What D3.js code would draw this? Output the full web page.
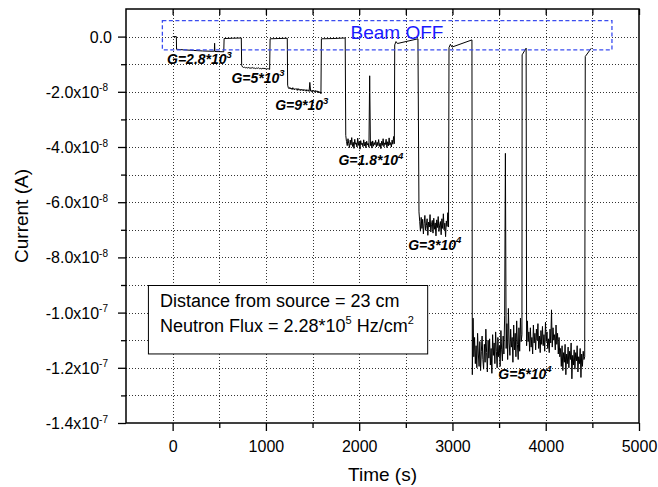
<!DOCTYPE html>
<html>
<head>
<meta charset="utf-8">
<script src="https://cdn.jsdelivr.net/npm/d3@7"></script>
<style>
  html, body { margin: 0; padding: 0; background: #fff; }
  svg { display: block; font-family: "Liberation Sans", Arial, sans-serif; }
</style>
</head>
<body>
<svg id="chart" width="658" height="487"></svg>
<script>
// ---------------- DATA (current in units of 1e-8 A, time in s) ----------------
const valueUnit = 1e-8;

// smooth / beam-off pieces: [time, value]
const start0   = [[0, 0], [40, 0]];
const gain1    = [[42, -0.46], [120, -0.48], [220, -0.50], [320, -0.52], [400, -0.53], [447, -0.53], [450, -0.24], [453, -0.54], [548, -0.55]];
const beamOff1 = [[552, -0.07], [640, -0.06], [736, -0.05]];
const beamOff2 = [[1045, -0.08], [1130, -0.07], [1229, -0.06]];
const beamOff3 = [[1595, -0.08], [1720, -0.07], [1850, -0.05]];
const beamOff4 = [[2381, -0.30], [2395, -0.18], [2410, -0.25], [2630, -0.08]];
const beamOff5 = [[2963, -0.40], [2978, -0.28], [2995, -0.38], [3209, -0.12]];
const beamOff6 = [[3747, -0.66], [3790, -0.42]];
const beamOff7 = [[4424, -0.72], [4489, -0.42]];

// sampled noisy pieces (evenly sampled between tStart and tEnd)
const gain2 = { tStart: 740, tEnd: 1040, values: [-1.04,-1.10,-1.12,-1.11,-1.13,-1.12,-1.14,-1.12,-1.13,-1.15,-1.13,-1.14,-1.12,-1.15,-1.14,-1.16,-1.14,-1.15,-1.13,-1.16,-1.15,-1.17,-1.15,-1.16,-1.14,-1.17,-1.16,-1.18,-1.16,-1.17,-1.19] };
const gain3 = { tStart: 1233, tEnd: 1590, values: [-1.76,-1.86,-1.89,-1.84,-1.90,-1.87,-1.92,-1.85,-1.90,-1.93,-1.88,-1.91,-1.89,-1.95,-1.88,-1.93,-1.91,-1.96,-1.90,-1.94,-1.92,-1.97,-1.91,-1.95,-1.93,-1.98,-1.92,-1.96,-1.94,-1.99,-1.66,-1.97,-1.95,-2.01,-1.94,-1.98,-1.96,-2.02,-1.95,-1.99,-1.97,-2.04,-1.98,-2.03,-2.00,-2.07] };
const gain4 = { tStart: 1856, tEnd: 2377, values: [-3.58,-3.80,-3.95,-3.70,-3.88,-4.02,-3.75,-3.92,-3.66,-3.98,-3.83,-4.05,-3.72,-3.90,-3.85,-4.00,-3.68,-3.94,-3.80,-4.08,-3.77,-3.91,-3.86,-3.99,-3.74,-3.96,-3.82,-4.03,-3.79,-3.93,-3.87,-4.01,-1.42,-3.95,-3.81,-4.04,-3.78,-3.97,-3.84,-3.92,-3.76,-4.00,-3.83,-3.95,-3.73,-3.98,-3.86,-4.06,-3.79,-3.94,-3.70,-3.99,-3.85,-3.91,-3.72,-4.02,-3.81,-3.96,-3.67,-3.93,-3.84,-4.00,-3.75,-3.90,-3.62,-3.88] };
const gain5 = { tStart: 2641, tEnd: 2958, values: [-6.35,-6.70,-7.05,-6.55,-6.95,-6.62,-7.15,-6.78,-6.48,-7.02,-6.85,-6.60,-7.20,-6.72,-6.90,-6.45,-7.08,-6.80,-6.66,-7.12,-6.58,-6.98,-6.75,-7.22,-6.64,-6.92,-6.52,-7.06,-6.83,-6.70,-7.18,-6.60,-6.95,-6.42,-7.00,-6.76,-7.25,-6.68,-6.88,-6.38,-6.90] };
const gain6a = { tStart: 3213, tEnd: 3745, values: [-12.25,-10.20,-11.60,-10.90,-11.85,-11.20,-12.00,-10.75,-11.50,-11.95,-11.05,-12.10,-11.40,-10.85,-11.70,-12.05,-11.15,-11.80,-10.60,-11.45,-12.15,-11.00,-11.65,-10.95,-11.90,-11.30,-12.20,-10.80,-11.55,-11.10,-11.85,-10.70,-11.40,-12.00,-10.90,-11.60,-11.20,-11.95,-10.65,-11.35,-11.75,-10.85,-11.50,-10.10,-4.23,-11.30,-10.40,-11.70,-9.85,-11.10,-11.55,-10.60,-11.25,-10.90,-11.80,-10.45,-11.35,-10.75,-11.60,-10.30,-11.15,-11.70,-10.55,-11.40,-10.20,-11.05,-10.80] };
const gain6b = { tStart: 3795, tEnd: 4418, values: [-11.20,-10.30,-11.05,-10.70,-11.40,-10.55,-11.25,-10.90,-11.50,-10.45,-11.10,-10.75,-11.35,-10.60,-11.00,-10.40,-11.30,-10.85,-11.45,-10.65,-11.15,-10.50,-11.20,-10.80,-11.40,-10.35,-11.05,-10.70,-11.30,-10.95,-11.45,-10.60,-11.10,-9.90,-11.25,-10.55,-11.00,-10.80,-11.35,-10.45,-11.15,-10.75,-11.50,-10.90,-11.60,-11.30,-11.95,-11.20,-12.10,-11.45,-11.80,-11.15,-12.25,-11.50,-11.85,-11.25,-12.00,-11.40,-11.70,-11.10,-12.40,-11.55,-11.90,-11.35,-12.05,-11.45,-11.75,-11.20,-12.15,-11.60,-11.85,-11.30,-12.35,-11.50,-11.95,-11.40,-11.70,-11.60] };

// axis ticks and labels
const xTicksMajor = [0, 1000, 2000, 3000, 4000, 5000];
const xTicksMinor = [500, 1500, 2500, 3500, 4500];
const yTicksMajor = [0, -2, -4, -6, -8, -10, -12, -14];
const yTicksMinor = [-1, -3, -5, -7, -9, -11, -13];
const yTickMantissa = ["0.0", "-2.0x10", "-4.0x10", "-6.0x10", "-8.0x10", "-1.0x10", "-1.2x10", "-1.4x10"];
const yTickExponent = ["", "-8", "-8", "-8", "-8", "-7", "-7", "-7"];

// annotations: gain labels [time, value, mantissa, exponent]
const gainLabels = [
  [-60, -1.01, "G=2.8*10", "3"],
  [630, -1.67, "G=5*10", "3"],
  [1100, -2.66, "G=9*10", "3"],
  [1778, -4.66, "G=1.8*10", "4"],
  [2525, -7.72, "G=3*10", "4"],
  [3492, -12.40, "G=5*10", "4"]
];
const beamOffBox = { t0: -110, t1: 4710, v0: 0.58, v1: -0.48 };
const beamOffLabel = { t: 1907, v: -0.09, text: "Beam OFF" };
const infoBox = { t0: -265, t1: 2729, v0: -9.01, v1: -11.49 };

// ---------------- BUILD SERIES ----------------
function sampled(seg) {
  const n = seg.values.length;
  const dt = (seg.tEnd - seg.tStart) / (n - 1);
  return seg.values.map((v, i) => [seg.tStart + i * dt, v]);
}
const series = [].concat(
  start0, gain1, beamOff1, sampled(gain2), beamOff2, sampled(gain3), beamOff3,
  sampled(gain4), beamOff4, sampled(gain5), beamOff5, sampled(gain6a), beamOff6,
  sampled(gain6b), beamOff7
);

// ---------------- CHART ----------------
const svg = d3.select("#chart");
const W = 658, H = 487;
const mg = { left: 126, top: 9, right: 19, bottom: 64 };
const x = d3.scaleLinear().domain([-500, 5000]).range([mg.left, W - mg.right]);
const y = d3.scaleLinear().domain([-14, 1]).range([H - mg.bottom, mg.top]);

const x0 = x.range()[0], x1 = x.range()[1], yb = y.range()[0], yt = y.range()[1];

// grid
const grid = svg.append("g").attr("stroke", "#333").attr("stroke-width", 1).attr("stroke-dasharray", "1,2").attr("fill", "none");
xTicksMajor.concat(xTicksMinor).filter(t => t < 5000).forEach(t => {
  grid.append("line").attr("x1", Math.round(x(t)) + 0.5).attr("x2", Math.round(x(t)) + 0.5).attr("y1", yt).attr("y2", yb);
});
yTicksMajor.concat(yTicksMinor).filter(v => v > -14).forEach(v => {
  grid.append("line").attr("y1", Math.round(y(v)) + 0.5).attr("y2", Math.round(y(v)) + 0.5).attr("x1", x0).attr("x2", x1);
});

// data line
const line = d3.line().x(d => x(d[0])).y(d => y(d[1]));
svg.append("path").datum(series)
  .attr("d", line)
  .attr("fill", "none")
  .attr("stroke", "#000")
  .attr("stroke-width", 1)
  .attr("stroke-linejoin", "round");

// beam-off dashed box
svg.append("rect")
  .attr("x", x(beamOffBox.t0)).attr("y", y(beamOffBox.v0))
  .attr("width", x(beamOffBox.t1) - x(beamOffBox.t0))
  .attr("height", y(beamOffBox.v1) - y(beamOffBox.v0))
  .attr("fill", "none").attr("stroke", "#3a4cf0").attr("stroke-width", 1.3)
  .attr("stroke-dasharray", "4,2.5");
svg.append("text")
  .attr("x", x(beamOffLabel.t)).attr("y", y(beamOffLabel.v))
  .attr("font-size", 19).attr("fill", "#1a1aff")
  .text(beamOffLabel.text);

// gain labels
gainLabels.forEach(g => {
  const t = svg.append("text")
    .attr("x", x(g[0])).attr("y", y(g[1]))
    .attr("font-size", 14).attr("font-weight", "bold").attr("font-style", "italic");
  t.append("tspan").text(g[2]);
  t.append("tspan").attr("dy", -6.5).attr("font-size", 9.5).text(g[3]);
});

// info box
const ib = svg.append("g");
ib.append("rect")
  .attr("x", x(infoBox.t0) + 0.5).attr("y", Math.round(y(infoBox.v0)) + 0.5)
  .attr("width", x(infoBox.t1) - x(infoBox.t0))
  .attr("height", y(infoBox.v1) - y(infoBox.v0))
  .attr("fill", "#fff").attr("stroke", "#000").attr("stroke-width", 1);
const tx = x(infoBox.t0) + 12;
const ty = y(infoBox.v0);
ib.append("text").attr("x", tx).attr("y", ty + 22).attr("font-size", 18)
  .text("Distance from source = 23 cm");
const l2 = ib.append("text").attr("x", tx).attr("y", ty + 47).attr("font-size", 18);
l2.append("tspan").text("Neutron Flux = 2.28*10");
l2.append("tspan").attr("dy", -8).attr("font-size", 11).text("5");
l2.append("tspan").attr("dy", 8).text(" Hz/cm");
l2.append("tspan").attr("dy", -8).attr("font-size", 11).text("2");

// axes
const axG = svg.append("g");
// bottom
const axBottom = axG.append("g").attr("transform", `translate(0,${yb})`);
axBottom.call(d3.axisBottom(x).tickValues(xTicksMajor).tickSize(8).tickSizeOuter(0).tickFormat(d3.format("d")));
axBottom.append("g").call(d3.axisBottom(x).tickValues(xTicksMinor).tickSize(5).tickSizeOuter(0).tickFormat(""));
axBottom.selectAll("path").remove();
axBottom.selectAll("line").attr("stroke", "#000").attr("stroke-width", 1.3);
axBottom.selectAll("text").attr("font-size", 16).attr("font-family", "Liberation Sans, Arial, sans-serif").attr("fill", "#000").attr("dy", null).attr("y", 28.5);

// left
const axLeft = axG.append("g").attr("transform", `translate(${x0},0)`);
axLeft.call(d3.axisLeft(y).tickValues(yTicksMajor).tickSize(8).tickSizeOuter(0).tickFormat(""));
axLeft.append("g").call(d3.axisLeft(y).tickValues(yTicksMinor).tickSize(5).tickSizeOuter(0).tickFormat(""));
axLeft.selectAll("path").remove();
axLeft.selectAll("line").attr("stroke", "#000").attr("stroke-width", 1.3);
yTicksMajor.forEach((v, i) => {
  const t = axLeft.append("text").attr("x", yTickExponent[i] ? -18 : -14).attr("y", y(v) + 6)
    .attr("text-anchor", "end").attr("font-size", 16).attr("fill", "#000");
  t.append("tspan").text(yTickMantissa[i]);
  if (yTickExponent[i]) t.append("tspan").attr("dy", -6.5).attr("font-size", 10).text(yTickExponent[i]);
});

// top ticks (inward)
const axTop = axG.append("g").attr("transform", `translate(0,${yt})`);
axTop.call(d3.axisTop(x).tickValues(xTicksMajor.concat(xTicksMinor)).tickSize(-6).tickSizeOuter(0).tickFormat(""));
axTop.selectAll("path").remove();
axTop.selectAll("line").attr("stroke", "#000").attr("stroke-width", 1.3);

// frame
axG.append("rect").attr("x", x0).attr("y", yt).attr("width", x1 - x0).attr("height", yb - yt)
  .attr("fill", "none").attr("stroke", "#000").attr("stroke-width", 1.5);

// axis titles
svg.append("text").attr("x", (x0 + x1) / 2).attr("y", 481).attr("text-anchor", "middle")
  .attr("font-size", 19).text("Time (s)");
svg.append("text").attr("transform", `translate(28,${(yt + yb) / 2}) rotate(-90)`)
  .attr("text-anchor", "middle").attr("font-size", 19).text("Current (A)");
</script>
</body>
</html>
